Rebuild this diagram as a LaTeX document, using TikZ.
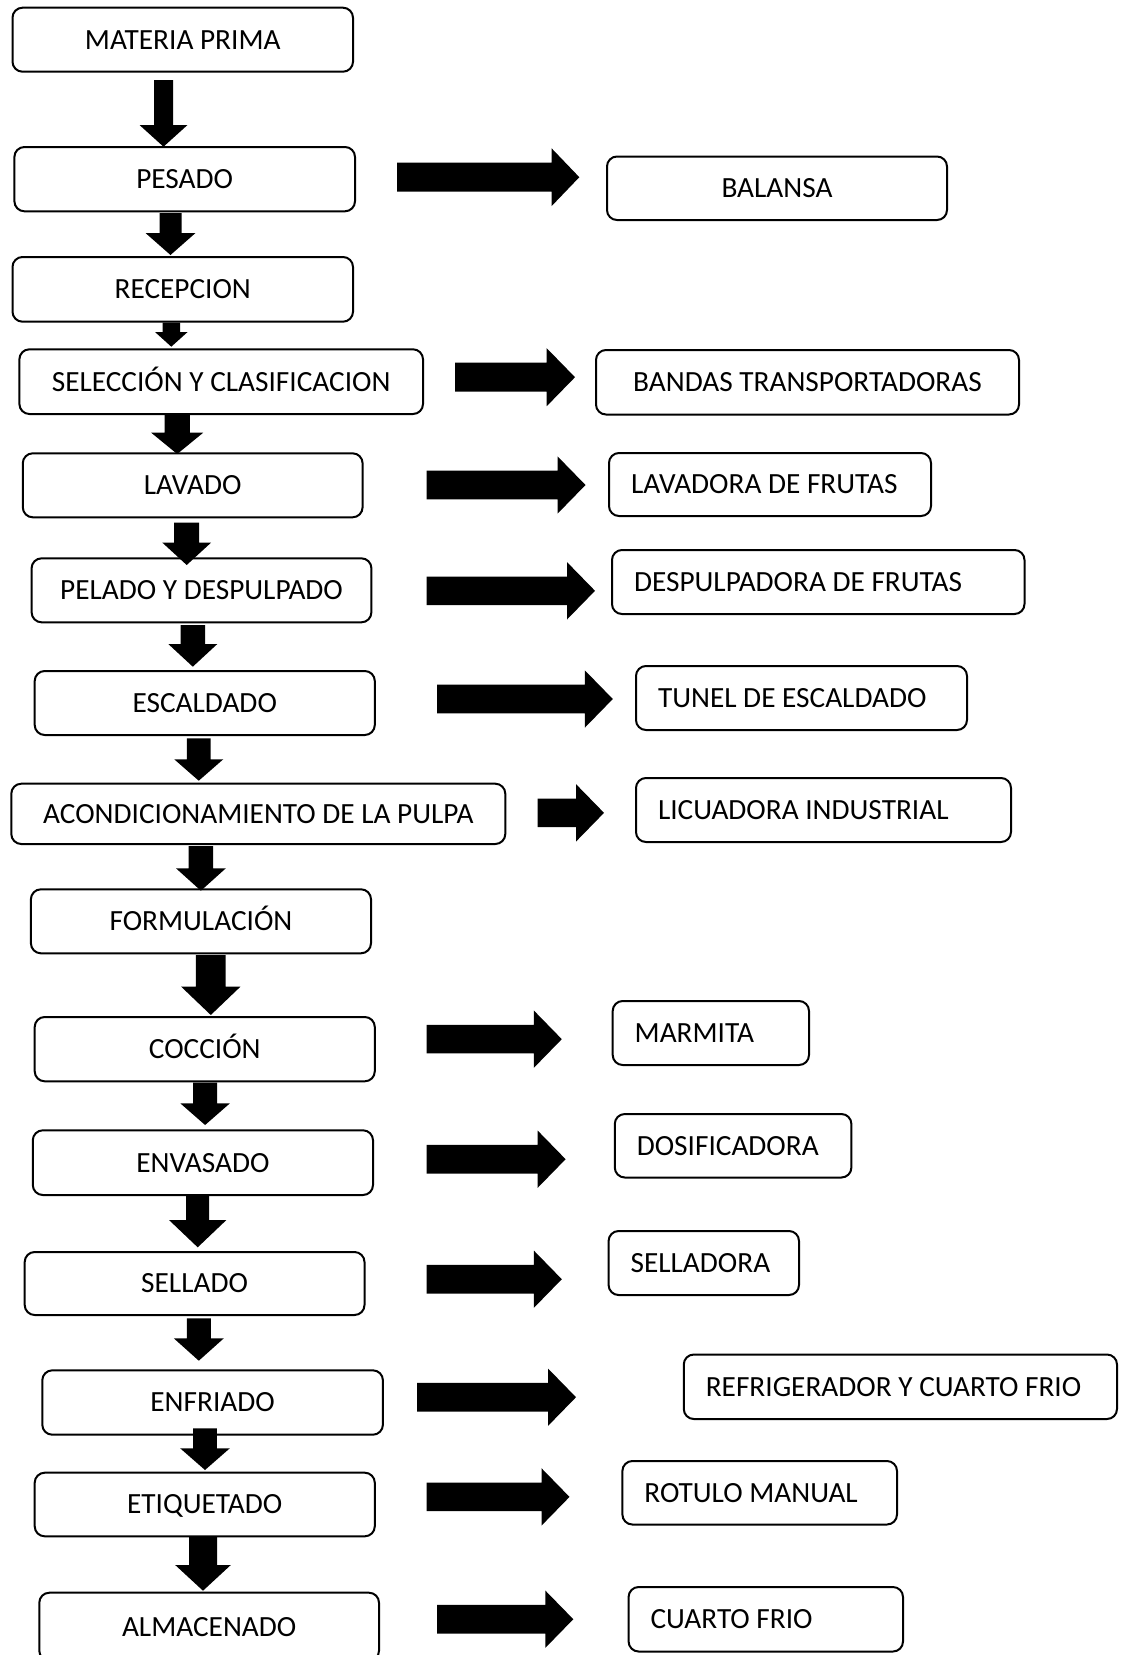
\documentclass[tikz,border=0pt]{standalone}
\usepackage{fontspec}
\setmainfont{Carlito}
\usetikzlibrary{calc}
\tikzset{
  box/.style={draw, line width=2pt, rounded corners=10pt, inner sep=0pt,
    font=\fontsize{29.3}{35}\selectfont, text height=18.9pt, text depth=0pt},
  arr/.style={fill=black},
}
% down block arrow: src, tgt, dx, dy(top), dy(tip), shaft half, head half, head length
\newcommand\blkdown[8]{%
  \path ($(#1.south)+(#3,#4)$) coordinate (s) ($(#2.north)+(0,#5)$) coordinate (e);
  \fill[arr] let \p1=(s), \p2=(e) in
    (\x1-#6pt,\y1) -- (\x1+#6pt,\y1) -- (\x1+#6pt,\y2+#8pt) -- (\x1+#7pt,\y2+#8pt)
    -- (\x1,\y2) -- (\x1-#7pt,\y2+#8pt) -- (\x1-#6pt,\y2+#8pt) -- cycle;}
% right block arrow: src, tgt, dx start, dy, dx tip, shaft half, head half, head length
\newcommand\blkright[8]{%
  \path ($(#1.east)+(#3,#4)$) coordinate (s) ($(#2.west)+(#5,0)$) coordinate (e);
  \fill[arr] let \p1=(s), \p2=(e) in
    (\x1,\y1+#6pt) -- (\x2-#8pt,\y1+#6pt) -- (\x2-#8pt,\y1+#7pt) -- (\x2,\y1)
    -- (\x2-#8pt,\y1-#7pt) -- (\x2-#8pt,\y1-#6pt) -- (\x1,\y1-#6pt) -- cycle;}
\begin{document}
\begin{tikzpicture}[x=1pt,y=-1pt]
\useasboundingbox (0,0) rectangle (1121,1655);
\fill[white] (0,0) rectangle (1121,1655);
\clip (0,0) rectangle (1121,1655);
% left column
\node[box, minimum width=340.5pt, minimum height=64pt] (mp) at (182.75,39.7) {MATERIA PRIMA};
\node[box, minimum width=340.6pt, minimum height=64.3pt] (pes) at (184.7,179.15) {PESADO};
\node[box, minimum width=340.5pt, minimum height=64.7pt] (rec) at (182.75,289.35) {RECEPCION};
\node[box, minimum width=403.6pt, minimum height=64.7pt] (sel) at (221.2,381.65) {SELECCIÓN Y CLASIFICACION};
\node[box, minimum width=339.8pt, minimum height=64pt] (lav) at (192.7,485.3) {LAVADO};
\node[box, minimum width=339.8pt, minimum height=64pt] (pel) at (201.5,590.3) {PELADO Y DESPULPADO};
\node[box, minimum width=340.1pt, minimum height=64pt] (esc) at (204.75,703) {ESCALDADO};
\node[box, minimum width=494pt, minimum height=60.3pt] (aco) at (258.3,813.85) {ACONDICIONAMIENTO DE LA PULPA};
\node[box, minimum width=340.1pt, minimum height=64pt] (frm) at (200.95,921.3) {FORMULACIÓN};
\node[box, minimum width=340.1pt, minimum height=64.3pt] (coc) at (204.75,1049.15) {COCCIÓN};
\node[box, minimum width=340.2pt, minimum height=64.7pt] (env) at (202.9,1162.65) {ENVASADO};
\node[box, minimum width=339.8pt, minimum height=63pt] (sell) at (194.6,1283.5) {SELLADO};
\node[box, minimum width=340.6pt, minimum height=64.4pt] (enf) at (212.6,1402.5) {ENFRIADO};
\node[box, minimum width=340.1pt, minimum height=63.6pt] (eti) at (204.75,1504.5) {ETIQUETADO};
\node[box, minimum width=339.7pt, minimum height=68pt] (alm) at (209.15,1626.7) {ALMACENADO};
% right column
\node[box, minimum width=340pt, minimum height=63.5pt] (bal) at (777,188.25) {BALANSA};
\node[box, minimum width=423pt, minimum height=64.5pt] (ban) at (807.5,382.25) {BANDAS TRANSPORTADORAS};
\node[box, minimum width=322pt, minimum height=63pt] (lvd) at (770,484.5) {\makebox[278pt][l]{LAVADORA DE FRUTAS}};
\node[box, minimum width=412.5pt, minimum height=64pt] (des) at (818.25,582) {\makebox[368.5pt][l]{DESPULPADORA DE FRUTAS}};
\node[box, minimum width=331pt, minimum height=64pt] (tun) at (801.5,698) {\makebox[287pt][l]{TUNEL DE ESCALDADO}};
\node[box, minimum width=375pt, minimum height=64pt] (lic) at (823.5,810) {\makebox[331pt][l]{LICUADORA INDUSTRIAL}};
\node[box, minimum width=196.3pt, minimum height=64pt] (mar) at (710.85,1033) {\makebox[152.3pt][l]{MARMITA}};
\node[box, minimum width=236.6pt, minimum height=63.5pt] (dos) at (733.1,1145.75) {\makebox[192.6pt][l]{DOSIFICADORA}};
\node[box, minimum width=190.4pt, minimum height=64pt] (sela) at (703.8,1263) {\makebox[146.4pt][l]{SELLADORA}};
\node[box, minimum width=433.2pt, minimum height=64.5pt] (ref) at (900.4,1386.75) {\makebox[389.2pt][l]{REFRIGERADOR Y CUARTO FRIO}};
\node[box, minimum width=274.6pt, minimum height=63.5pt] (rot) at (759.7,1492.75) {\makebox[230.6pt][l]{ROTULO MANUAL}};
\node[box, minimum width=274.4pt, minimum height=64.5pt] (cua) at (765.8,1619.25) {\makebox[230.4pt][l]{CUARTO FRIO}};
% down arrows
\blkdown{mp}{pes}{-19.25}{7.3}{0.7}{9.5}{24}{21.7}
\blkdown{pes}{rec}{-14.2}{0.7}{-1}{11}{25}{22}
\blkdown{rec}{sel}{-11.45}{0}{-1.6}{8.7}{16.3}{14.7}
\blkdown{sel}{lav}{-44}{-1}{1.7}{12.7}{26}{21.3}
\blkdown{lav}{pel}{-6}{4.4}{7.7}{12.5}{24.3}{22.3}
\blkdown{pel}{esc}{-8.7}{1.7}{-3.3}{12.3}{24.5}{22.7}
\blkdown{esc}{aco}{-6}{2.3}{-2}{11.9}{24.5}{21.4}
\blkdown{aco}{frm}{-57.4}{1}{2.4}{12.2}{24.9}{22.4}
\blkdown{frm}{coc}{9.85}{0.7}{-1}{14.9}{29.6}{28.3}
\blkdown{coc}{env}{0.35}{0.4}{-4.3}{12}{24.8}{21.7}
\blkdown{env}{sell}{-5.2}{-1}{-3.7}{11.5}{28.7}{27.3}
\blkdown{sell}{enf}{4.2}{2.3}{-8.6}{12}{25}{22.4}
\blkdown{enf}{eti}{-7.6}{-7.4}{-1.7}{11.9}{24.8}{21.7}
\blkdown{eti}{alm}{-1.75}{-0.6}{-1}{14}{27.8}{25.7}
% right arrows
\blkright{pes}{bal}{41}{-1.95}{-26.7}{14.5}{28.8}{27.6}
\blkright{sel}{ban}{31}{-4.45}{-20}{14.5}{29}{28.3}
\blkright{lav}{lvd}{63.1}{-0.3}{-22.5}{14.3}{28.7}{28}
\blkright{pel}{des}{54.3}{0.5}{-16}{14.3}{28.7}{28}
\blkright{esc}{tun}{61.2}{-4}{-22.2}{14.3}{28.7}{28}
\blkright{aco}{lic}{31.4}{-1}{-31}{14.3}{28.7}{28}
\blkright{coc}{mar}{50.9}{-10}{-49.9}{14.3}{28.7}{28}
\blkright{env}{dos}{52.7}{-3.45}{-48.2}{14.3}{28.7}{28}
\blkright{sell}{sela}{61.2}{-4.3}{-45.8}{14.3}{28.7}{28}
\blkright{enf}{ref}{33.1}{-5.3}{-106.8}{14.3}{28.7}{28}
\blkright{eti}{rot}{50.9}{-7.6}{-51.9}{14.3}{28.7}{28}
\blkright{alm}{cua}{57}{-7.5}{-54.3}{14.3}{28.7}{28}
\end{tikzpicture}
\end{document}
